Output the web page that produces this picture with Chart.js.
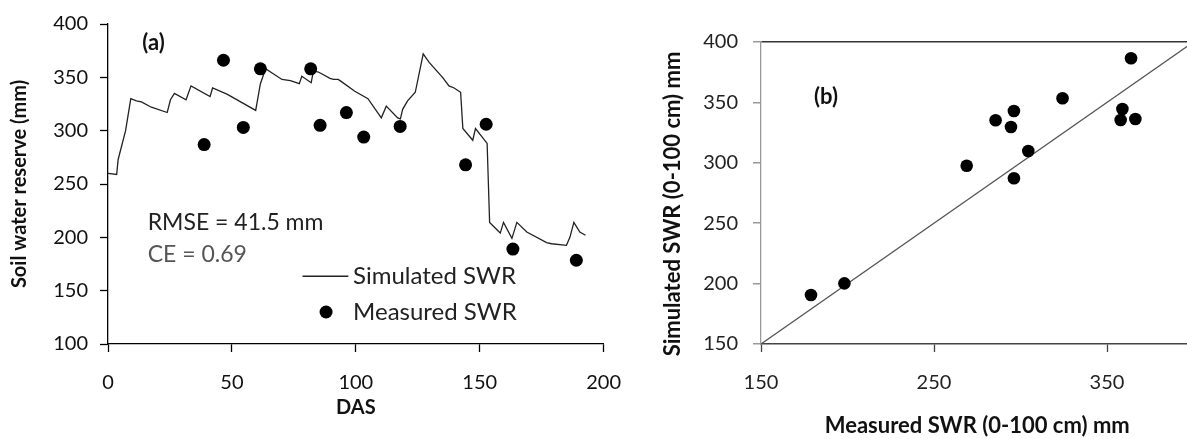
<!DOCTYPE html>
<html>
<head>
<meta charset="utf-8">
<script src="https://cdn.jsdelivr.net/npm/chart.js@4.4.1/dist/chart.umd.min.js"></script>
<style>
    html, body { margin: 0; padding: 0; background: #fff; overflow: hidden; width: 1187px; height: 439px; }
    canvas { position: absolute; top: 0; }
    #chartA { left: 0; }
    #chartB { left: 640px; }
</style>
</head>
<body>
<canvas id="chartA" width="640" height="439"></canvas>
<canvas id="chartB" width="560" height="439"></canvas>
<script>
// panel (a): simulated SWR through the season
const simDas = [0, 3.5, 4.1, 7.1, 9.2, 11.5, 13.5, 17.5, 23.9, 25.2, 26.8, 31.5, 33.5, 41.2, 42.2, 48.2,
    59.6, 61.5, 63.6, 70.2, 73.6, 77.2, 78.2, 82, 82.9, 84.9, 89.6, 91, 92.9, 94.2, 99.6, 104.9,
    110.3, 112.3, 116.9, 118, 118.9, 120.9, 124, 127.2, 129.6, 135, 137.6, 139.7, 142.3, 143.2,
    147.2, 148.3, 153, 154, 158.3, 159.6, 163, 165, 169, 177, 179, 185, 186.4, 188, 190.4, 192.7];
const simSwr = [260, 259, 273, 300, 330, 328, 327, 322, 317, 329, 335, 329, 342, 332, 340, 334,
    319, 344, 358, 348, 347, 344, 351, 345, 356, 355, 349, 348, 348, 346, 337, 330,
    312, 323, 312, 311, 320, 328, 336, 372, 364, 350, 342, 340, 336, 302,
    291, 302, 288, 214, 204, 214, 199, 214, 205, 195, 194, 192.5, 200, 214, 205, 202];

// panel (a): measured SWR
const obsDas = [38.8, 46.6, 54.6, 61.5, 81.8, 85.6, 96.2, 103.2, 117.9, 144.3, 152.6, 163.4, 189];
const obsSwr = [287, 366, 303, 358, 358, 305, 317, 294, 304, 268, 306, 189, 178.5];

// panel (b): measured vs simulated
const measSwr = [178.9, 198.2, 268.9, 285.6, 294.5, 296.2, 296.2, 304.5, 324.3, 357.9, 358.9, 363.9, 366.4];
const simAtObs = [190.6, 200.2, 297.6, 335.2, 329.6, 342.9, 287.2, 309.8, 353.4, 335.4, 344.5, 386.5, 336.3];
const oneToOne = [150, 400];

// tick labels
const dasTicks = [0, 50, 100, 150, 200];
const swrTicksA = [100, 150, 200, 250, 300, 350, 400];
const measTicksB = [150, 250, 350];
const simTicksB = [150, 200, 250, 300, 350, 400];

const FONT = "Lato, 'Open Sans', sans-serif";

function toPoints(xs, ys) {
    return xs.map((x, i) => ({ x: x, y: ys[i] }));
}

function fixedTicks(values) {
    return (scale) => {
        scale.ticks = values.map((v) => ({ value: v }));
    };
}

const panelNotes = {
    id: "panelNotes",
    afterDatasetsDraw(chart, args, opts) {
        const { ctx } = chart;
        const sx = chart.scales.x;
        const sy = chart.scales.y;
        ctx.save();
        ctx.textBaseline = "middle";
        (opts.items || []).forEach((item) => {
            ctx.font = item.font;
            ctx.fillStyle = item.color;
            ctx.textAlign = item.align || "left";
            ctx.fillText(item.text, sx.getPixelForValue(item.x), sy.getPixelForValue(item.y));
        });
        if (opts.legend) {
            const lg = opts.legend;
            const y1 = sy.getPixelForValue(lg.lineY);
            ctx.strokeStyle = "#222";
            ctx.lineWidth = 1.3;
            ctx.beginPath();
            ctx.moveTo(sx.getPixelForValue(lg.lineX[0]), y1);
            ctx.lineTo(sx.getPixelForValue(lg.lineX[1]), y1);
            ctx.stroke();
            ctx.fillStyle = "#000";
            ctx.beginPath();
            ctx.arc(sx.getPixelForValue(lg.dotX), sy.getPixelForValue(lg.dotY), 6.5, 0, Math.PI * 2);
            ctx.fill();
        }
        ctx.restore();
    },
};

function axisFont(size, bold) {
    return { family: FONT, size: size, weight: bold ? "bold" : "normal", lineHeight: 1.2 };
}

new Chart(document.getElementById("chartA"), {
    type: "scatter",
    data: {
        datasets: [{
            label: "Measured SWR",
            data: toPoints(obsDas, obsSwr),
            pointRadius: 6.5,
            backgroundColor: "#000",
            borderWidth: 0,
            order: 1,
        }, {
            label: "Simulated SWR",
            data: toPoints(simDas, simSwr),
            showLine: true,
            pointRadius: 0,
            borderColor: "#222",
            borderWidth: 1.3,
            order: 2,
        }],
    },
    options: {
        responsive: false,
        animation: false,
        events: [],
        layout: { padding: { top: 23, right: 33, left: 0, bottom: 0 } },
        plugins: {
            legend: { display: false },
            tooltip: { enabled: false },
            panelNotes: {
                items: [
                    { text: "(a)", x: 18.4, y: 382, font: "bold 22px " + FONT, color: "#111", align: "center" },
                    { text: "RMSE = 41.5 mm", x: 16, y: 214, font: "23px " + FONT, color: "#222" },
                    { text: "CE = 0.69", x: 16, y: 184, font: "23px " + FONT, color: "#555" },
                    { text: "Simulated SWR", x: 98.9, y: 163.5, font: "24px " + FONT, color: "#222" },
                    { text: "Measured SWR", x: 98.9, y: 130, font: "24px " + FONT, color: "#222" },
                ],
                legend: { lineX: [78.5, 97], lineY: 163.5, dotX: 88, dotY: 130 },
            },
        },
        scales: {
            x: {
                type: "linear",
                min: 0,
                max: 200,
                afterBuildTicks: fixedTicks(dasTicks),
                afterFit: (s) => { s.height = 95; },
                border: { color: "#000", width: 1.3 },
                grid: { drawOnChartArea: false, tickLength: 8, color: "#000", tickWidth: 1.3 },
                ticks: { padding: 19, color: "#111", font: axisFont(20) },
                title: { display: true, text: "DAS", color: "#111", font: axisFont(20, true), padding: { top: 0, bottom: 19 } },
            },
            y: {
                type: "linear",
                min: 100,
                max: 400,
                afterBuildTicks: fixedTicks(swrTicksA),
                afterFit: (s) => { s.width = 108; },
                border: { color: "#000", width: 1.3 },
                grid: { drawOnChartArea: false, tickLength: 8, color: "#000", tickWidth: 1.3 },
                ticks: { padding: 12, color: "#111", font: axisFont(20) },
                title: { display: true, text: "Soil water reserve (mm)", color: "#111", font: axisFont(20, true), padding: { top: 8, bottom: 0 } },
            },
        },
    },
    plugins: [panelNotes],
});

new Chart(document.getElementById("chartB"), {
    type: "scatter",
    data: {
        datasets: [{
            label: "SWR",
            data: toPoints(measSwr, simAtObs),
            pointRadius: 6.3,
            backgroundColor: "#000",
            borderWidth: 0,
            order: 1,
        }, {
            label: "1:1",
            data: toPoints(oneToOne, oneToOne),
            showLine: true,
            pointRadius: 0,
            borderColor: "#555",
            borderWidth: 1.3,
            order: 2,
        }],
    },
    options: {
        responsive: false,
        animation: false,
        events: [],
        layout: { padding: { top: 42, right: 6.5, left: 0, bottom: 0 } },
        plugins: {
            legend: { display: false },
            tooltip: { enabled: false },
            panelNotes: {
                items: [
                    { text: "(b)", x: 187.6, y: 354.5, font: "bold 22px " + FONT, color: "#111", align: "center" },
                ],
            },
        },
        scales: {
            x: {
                type: "linear",
                min: 150,
                max: 400,
                afterBuildTicks: fixedTicks(measTicksB),
                afterFit: (s) => { s.height = 95; },
                border: { color: "#444", width: 1.5 },
                grid: { drawOnChartArea: false, tickLength: 8, color: "#444", tickWidth: 1.3 },
                ticks: { padding: 19, color: "#222", font: axisFont(20) },
                title: { display: true, text: "Measured SWR (0-100 cm) mm", color: "#111", font: axisFont(22, true), padding: { top: 0, bottom: 0 } },
            },
            y: {
                type: "linear",
                min: 150,
                max: 400,
                afterBuildTicks: fixedTicks(simTicksB),
                afterFit: (s) => { s.width = 121; },
                border: { color: "#999", width: 1.3 },
                grid: {
                    drawOnChartArea: true,
                    tickLength: 8,
                    color: (c) => (c.tick && c.tick.value === 400 ? "#333" : "rgba(0,0,0,0)"),
                    tickColor: "#999",
                    lineWidth: 1.5,
                },
                ticks: { padding: 15, color: "#222", font: axisFont(20) },
                title: { display: true, text: "Simulated SWR (0-100 cm) mm\u2002\u2002", color: "#111", font: axisFont(22, true), padding: { top: 20, bottom: 0 } },
            },
        },
    },
    plugins: [panelNotes],
});
</script>
</body>
</html>
